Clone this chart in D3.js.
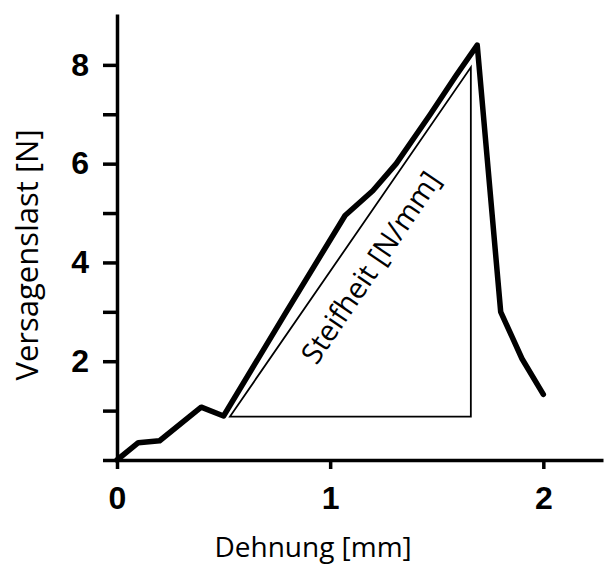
<!DOCTYPE html>
<html>
<head>
<meta charset="utf-8">
<script src="https://cdn.jsdelivr.net/npm/d3@7"></script>
<style>
  html, body { margin: 0; padding: 0; background: #fff; }
  #chart { width: 605px; height: 566px; }
</style>
</head>
<body>
<div id="chart"></div>
<script>
// Dehnung [mm] vs Versagenslast [N]
const strain = [0, 0.1, 0.2, 0.395, 0.5, 0.79, 1.07, 1.2, 1.31, 1.47, 1.59, 1.69, 1.8, 1.9, 2.0];
const load   = [0, 0.35, 0.39, 1.07, 0.89, 2.97, 4.95, 5.45, 6.0, 7.0, 7.78, 8.4, 3.0, 2.05, 1.33];

// stiffness triangle (corners in data units)
const triX = [0.53, 1.66, 1.66];
const triY = [0.88, 0.88, 7.95];

const xTicks = [0, 1, 2];
const yTicks = [0, 1, 2, 3, 4, 5, 6, 7, 8];
const yTickLabels = ['', '', '2', '', '4', '', '6', '', '8'];

const width = 605, height = 566;
const margin = { top: 14, right: 2, bottom: 106, left: 117 };
const w = width - margin.left - margin.right;
const h = height - margin.top - margin.bottom;

const svg = d3.select('#chart')
  .append('svg')
  .attr('width', width)
  .attr('height', height)
  .append('g')
  .attr('transform', `translate(${margin.left},${margin.top})`);

const x = d3.scaleLinear().domain([0, 2.28]).range([0, w]);
const y = d3.scaleLinear().domain([0, 9.03]).range([h, 0]);

// Y axis
svg.append('g')
  .attr('class', 'axis y-axis')
  .call(d3.axisLeft(y)
    .tickValues(yTicks)
    .tickSize(14)
    .tickSizeOuter(0)
    .tickPadding(14)
    .tickFormat((d, i) => yTickLabels[i]));

// X axis
svg.append('g')
  .attr('class', 'axis x-axis')
  .attr('transform', `translate(0,${h})`)
  .call(d3.axisBottom(x)
    .tickValues(xTicks)
    .tickSize(9)
    .tickSizeOuter(0)
    .tickPadding(17)
    .tickFormat(d3.format('d')));

svg.selectAll('.axis path, .axis line')
  .style('stroke', '#000')
  .style('stroke-width', 3.5);

svg.selectAll('.axis text')
  .style('fill', '#000')
  .style('font-family', '"Liberation Sans", Arial, sans-serif')
  .style('font-size', '32px')
  .style('font-weight', '700');

// Stiffness triangle
const tri = triX.map((d, i) => [x(d), y(triY[i])]);
svg.append('path')
  .attr('d', d3.line()(tri) + 'Z')
  .attr('fill', 'none')
  .attr('stroke', '#000')
  .attr('stroke-width', 1.8)
  .attr('stroke-linejoin', 'miter');

// Load curve
const pts = strain.map((d, i) => [d, load[i]]);
svg.append('path')
  .datum(pts)
  .attr('fill', 'none')
  .attr('stroke', '#000')
  .attr('stroke-width', 5.5)
  .attr('stroke-linejoin', 'round')
  .attr('stroke-linecap', 'round')
  .attr('d', d3.line().x(d => x(d[0])).y(d => y(d[1])));

// Stiffness label
svg.append('text')
  .attr('transform', `translate(${x(1.19)},${y(3.9)}) rotate(-56)`)
  .attr('text-anchor', 'middle')
  .attr('dy', '0.35em')
  .style('font-family', '"Open Sans", sans-serif')
  .style('font-size', '29px')
  .style('fill', '#000')
  .text('Steifheit [N/mm]');

// X axis label
svg.append('text')
  .attr('transform', `translate(${x(0.92)}, ${h + 97})`)
  .attr('text-anchor', 'middle')
  .style('font-family', '"Open Sans", sans-serif')
  .style('font-size', '28px')
  .style('fill', '#000')
  .text('Dehnung [mm]');

// Y axis label
svg.append('text')
  .attr('transform', `translate(${-90},${y(4.15)}) rotate(-90)`)
  .attr('text-anchor', 'middle')
  .attr('dy', '0.35em')
  .style('font-family', '"Open Sans", sans-serif')
  .style('font-size', '31px')
  .style('fill', '#000')
  .text('Versagenslast [N]');
</script>
</body>
</html>
